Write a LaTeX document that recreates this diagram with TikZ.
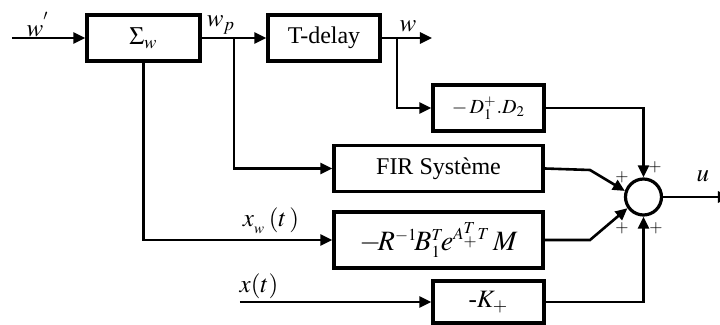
\documentclass[tikz,border=0pt]{standalone}
\usepackage{mathptmx}
\usepackage[no-math]{fontspec}
\setmainfont{Liberation Serif}
\usetikzlibrary{arrows.meta, calc}

\begin{document}
\begin{tikzpicture}[
    x=0.5pt, y=-0.5pt,
    font=\fontsize{12}{14}\selectfont,
    blk/.style={draw, line width=1.6pt, fill=white, inner sep=2pt,
        minimum width=#1, minimum height=23pt, align=center},
    sumnode/.style={draw, circle, line width=1.6pt,
        minimum size=18pt, inner sep=0pt},
    sig/.style={line width=1.3pt, -{Triangle[length=6pt, width=5.5pt]}},
    lbl/.style={font=\fontsize{12.5}{14}\selectfont, inner sep=0pt},
    sgn/.style={font=\fontsize{8.5}{9}\selectfont, inner sep=0pt},
]
\useasboundingbox (0,0) rectangle (720,325);

%% ========== BLOCKS ==========
\node[blk=56.5pt, font=\fontsize{12.5}{14}\selectfont] (sigw) at (143.5,38) {$\Sigma_w$};
\node[blk=56pt] (delay) at (324,38) {T-delay};
\node[blk=55.5pt, font=\fontsize{10}{12}\selectfont] (dgain) at (488.5,108) {$-\,D_1^{+}.D_2$};
\node[blk=104.5pt] (fir) at (438.5,168.5) {FIR Système};
\node[blk=104.5pt, minimum height=28pt, font=\fontsize{14}{16}\selectfont] (rgain) at (438.5,240)
    {$-\!R^{\scriptscriptstyle -1}\!B_{\scriptscriptstyle 1}^{\scriptscriptstyle T}\!
      e^{\scriptscriptstyle A_+^T T}\,M$};
\node[blk=55.5pt, minimum height=21pt, font=\fontsize{12.5}{14}\selectfont] (kgain) at (488.5,302) {-$K_{+}$};
\node[sumnode] (sum) at (643.5,197) {};

%% ========== FREE ENDS AND BRANCHES ==========
\coordinate (win) at (12,38);
\coordinate (wout) at (432,38);
\coordinate (xin) at (240,302);
\coordinate (uout) at (730,197);
\coordinate (bp) at (234,38);
\coordinate (bw) at (397,38);
\coordinate (firknee) at (590,170);
\coordinate (rknee) at (590,240);

%% ========== CONNECTIONS ==========
\draw[sig] (win) -- (sigw.west);
\draw[sig] (sigw.east) -- (delay.west);
\draw[sig] (bp) |- (fir.west);
\draw[sig] (sigw.south) |- (rgain.west);
\draw[sig] (delay.east) -- (wout);
\draw[sig] (bw) |- (dgain.west);
\draw[sig] (dgain.east) -| (sum.north);
\draw[sig] (fir.east) -- (firknee) -- (sum.162);
\draw[sig] (rgain.east) -- (rknee) -- (sum.215);
\draw[sig] (xin) -- (kgain.west);
\draw[sig] (kgain.east) -| (sum.south);
\draw[sig] (sum.east) -- (uout);

%% ========== SIGNAL LABELS ==========
\node[lbl] (lwin) at (38,25) {$w^{'}$};
\node[lbl] (lwp) at (221,25) {$w_p$};
\node[lbl] (lw) at (408,26) {$w$};
\node[lbl] (lxw) at (271,221) {$x_{_w}\,(t\,)$};
\node[lbl] (lx) at (259,286) {$x(t)$};
\node[lbl] (lu) at (703,176) {$u$};

%% ========== SIGNS AT THE SUM ==========
\node[sgn] (ptop) at (655,167) {$+$};
\node[sgn] (pfir) at (622,177) {$+$};
\node[sgn] (pr) at (622,228) {$+$};
\node[sgn] (pk) at (656,228) {$+$};
\end{tikzpicture}
\end{document}
